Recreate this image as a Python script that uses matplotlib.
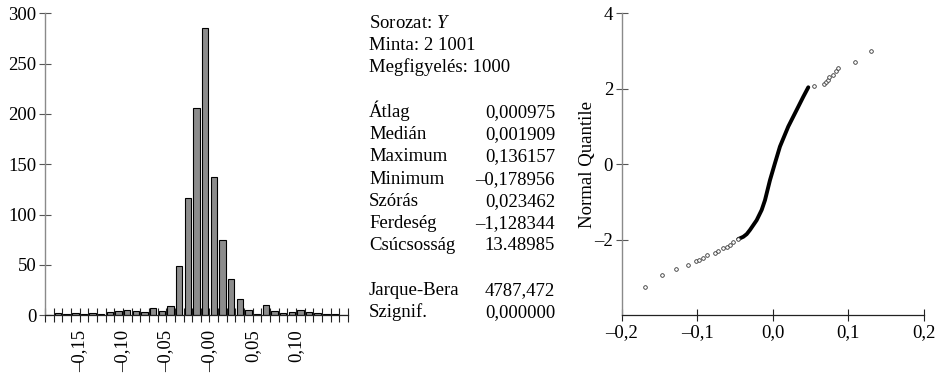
import matplotlib
matplotlib.use("Agg")
import matplotlib.pyplot as plt
import numpy as np

plt.rcParams['font.family'] = ['Liberation Serif', 'DejaVu Serif']
plt.rcParams['font.size'] = 13.5
plt.rcParams['mathtext.fontset'] = 'custom'
plt.rcParams['mathtext.rm'] = 'Liberation Serif'
plt.rcParams['mathtext.it'] = 'Liberation Serif:italic'

# histogram: bins of 0.01 starting at -0.19
bin_start = -0.19
bin_width = 0.01
counts = [0,
          2, 1, 2, 1, 2, 1, 3, 4, 5, 4, 3, 7, 4, 9,
          49, 117, 206, 285, 137, 75, 36, 16, 5,
          1, 10, 4, 2, 3, 5, 3, 2, 1, 1,
          0]
hist_label_pos = [-0.15, -0.10, -0.05, 0.00, 0.05, 0.10]
hist_label_txt = ['\u20130,15', '\u20130,10', '\u20130,05', '\u20130,00', '0,05', '0,10']
hist_yticks = [0, 50, 100, 150, 200, 250, 300]

# descriptive statistics (None = empty line)
stat_names = ['Sorozat: $Y$', 'Minta: 2 1001', 'Megfigyelés: 1000', None,
              'Átlag', 'Medián', 'Maximum', 'Minimum', 'Szórás', 'Ferdeség', 'Csúcsosság', None,
              'Jarque-Bera', 'Szignif.']
stat_values = ['', '', '', None,
               '0,000975', '0,001909', '0,136157', '\u20130,178956', '0,023462',
               '\u20131,128344', '13.48985', None,
               '4787,472', '0,000000']

# normal quantile plot: sparse tail points and the dense middle
lo_x = [-0.169, -0.1467, -0.128, -0.1127, -0.1021, -0.0973, -0.0928, -0.0875,
        -0.0766, -0.0722, -0.0656, -0.0611, -0.0567, -0.0523, -0.0457]
lo_y = [-3.24, -2.94, -2.77, -2.68, -2.57, -2.53, -2.49, -2.40,
        -2.34, -2.29, -2.22, -2.18, -2.14, -2.05, -1.98]
mid_x = [-0.0457, -0.0391, -0.0346, -0.0303, -0.0214, -0.0148, -0.0104, -0.0038,
         0.0028, 0.0094, 0.0204, 0.0315, 0.0403, 0.0469]
mid_y = [-1.98, -1.92, -1.85, -1.74, -1.48, -1.21, -0.95, -0.42,
         0.03, 0.47, 1.00, 1.44, 1.79, 2.04]
hi_x = [0.0540, 0.0681, 0.0703, 0.0734, 0.0743, 0.0800, 0.0831, 0.0862, 0.1087, 0.1299]
hi_y = [2.08, 2.12, 2.19, 2.23, 2.30, 2.37, 2.46, 2.56, 2.71, 3.01]
qq_xticks = [-0.2, -0.1, 0.0, 0.1, 0.2]
qq_xlabels = ['\u20130,2', '\u20130,1', '0,0', '0,1', '0,2']
qq_yticks = [-2, 0, 2, 4]
qq_ylabels = ['\u20132', '0', '2', '4']

W, H = 946, 374
fig = plt.figure(figsize=(W / 100, H / 100), dpi=100)

spine_grey = '#8a8a8a'

# ---- histogram ----
ax1 = fig.add_axes([45 / W, (H - 315.3) / H, 303 / W, 302 / H])
edges = bin_start + bin_width * np.arange(len(counts) + 1)
centers = edges[:-1] + bin_width / 2
ax1.bar(centers, counts, width=bin_width * 0.74, color='#8c8c8c',
        edgecolor='black', linewidth=0.8, zorder=2)
ax1.set_xlim(edges[0], edges[-1])
ax1.set_ylim(0, 300)
ax1.set_xticks(edges)
tick_txt = []
for e in edges:
    lab = ''
    for p, t in zip(hist_label_pos, hist_label_txt):
        if abs(e - p) < 1e-6:
            lab = t
    tick_txt.append(lab)
ax1.set_xticklabels(tick_txt, rotation=90)
ax1.set_yticks(hist_yticks)
ax1.set_yticklabels([str(v) for v in hist_yticks])
ax1.tick_params(axis='x', direction='inout', length=9.5, width=0.8, color='#222222', pad=5.5)
ax1.tick_params(axis='y', direction='inout', length=8.5, width=0.8, color='#555555', pad=2)
for s in ['top', 'right']:
    ax1.spines[s].set_visible(False)
ax1.spines['left'].set_color(spine_grey)
ax1.spines['left'].set_linewidth(1.0)
ax1.spines['bottom'].set_color('#222222')
ax1.spines['bottom'].set_linewidth(0.9)

# ---- statistics block ----
x_name = 369 / W
x_val = 555 / W
line_h = 22.3
y0 = 27.5
for i, (n, v) in enumerate(zip(stat_names, stat_values)):
    if n is None:
        continue
    yy = 1 - (y0 + i * line_h) / H
    fig.text(x_name, yy, n, va='baseline', ha='left')
    if v:
        fig.text(x_val, yy, v, va='baseline', ha='right')

# ---- quantile plot ----
ax2 = fig.add_axes([621.7 / W, (H - 315.3) / H, 302.3 / W, 302 / H])
ax2.plot(mid_x, mid_y, color='black', linewidth=2.8, solid_capstyle='round', zorder=2)
ax2.plot(lo_x + hi_x, lo_y + hi_y, linestyle='none', marker='o', markersize=2.6,
         markerfacecolor='white', markeredgecolor='#333333', markeredgewidth=0.6, zorder=3)
ax2.set_xlim(-0.2, 0.2)
ax2.set_ylim(-4, 4)
ax2.set_xticks(qq_xticks)
ax2.set_xticklabels(qq_xlabels)
ax2.set_yticks(qq_yticks)
ax2.set_yticklabels(qq_ylabels)
ax2.tick_params(axis='x', direction='inout', length=9, width=0.8, color='#222222', pad=1.5)
ax2.tick_params(axis='y', direction='inout', length=8.5, width=0.8, color='#555555', pad=2)
ax2.set_ylabel('Normal Quantile')
ax2.yaxis.set_label_coords(-0.085, 0.5)
for s in ['top', 'right']:
    ax2.spines[s].set_visible(False)
ax2.spines['left'].set_color(spine_grey)
ax2.spines['left'].set_linewidth(1.0)
ax2.spines['bottom'].set_color('#222222')
ax2.spines['bottom'].set_linewidth(0.9)

fig.savefig('out.png', dpi=100)
